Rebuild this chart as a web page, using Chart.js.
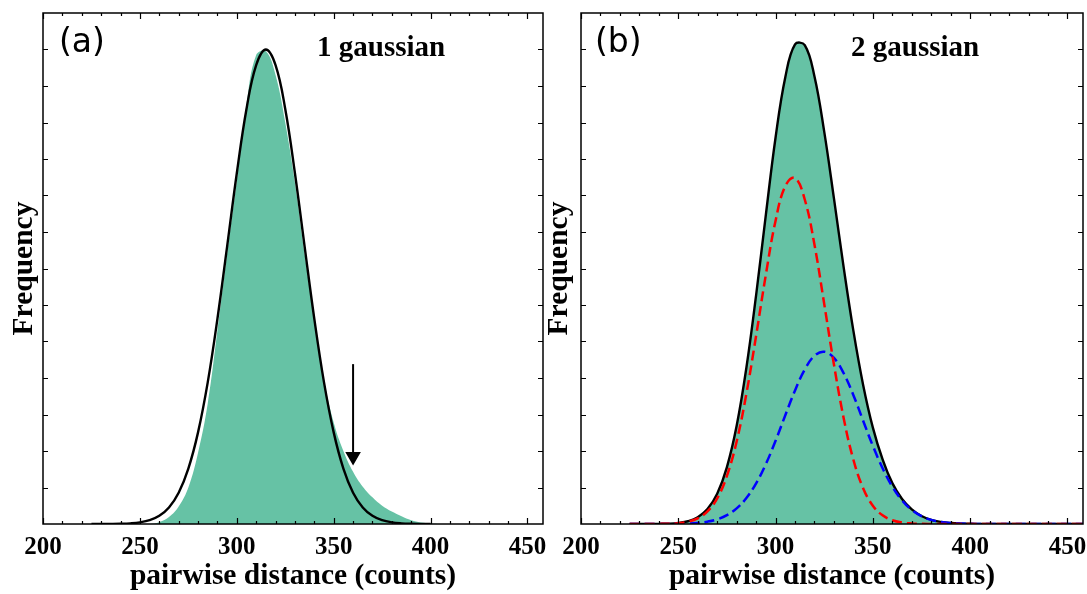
<!DOCTYPE html>
<html lang="en">
<head>
<meta charset="UTF-8">
<title>pairwise distance histogram</title>
<script src="https://cdn.jsdelivr.net/npm/chart.js"></script>
<style>
  html, body { margin: 0; padding: 0; background: #fff; overflow: hidden; width: 1087px; height: 594px; }
  canvas { position: absolute; top: 0; }
  #chartA { left: 0; }
  #chartB { left: 540px; }
</style>
</head>
<body>
<canvas id="chartA" width="556" height="594"></canvas>
<canvas id="chartB" width="560" height="594"></canvas>
<script>
// panel (a): histogram + single gaussian fit
const histX = [255,260,265,270,275,280,285,290,295,300,305,310,315,320,325,330,335,340,345,350,355,360,365,370,375,380,385,390,395,400,405];
const hist  = [0,0.05,0.19,0.48,1.0,1.95,3.3,5.3,7.4,9.4,11.5,12.85,12.95,12.3,11.0,9.35,7.4,5.6,3.95,2.78,2.0,1.43,1.02,0.73,0.50,0.34,0.21,0.10,0.04,0.015,0];

const fitX = [225,230,235,240,245,250,255,260,265,270,275,280,285,290,295,300,305,310,315,320,325,330,335,340,345,350,355,360,365,370,375,380,385,390,395,400];
const fit1 = [0.0002,0.0008,0.0024,0.0068,0.018,0.045,0.104,0.224,0.453,0.858,1.518,2.51,3.88,5.62,7.60,9.61,11.37,12.57,13.0,12.57,11.37,9.61,7.60,5.62,3.88,2.51,1.518,0.858,0.453,0.224,0.104,0.045,0.018,0.0068,0.0024,0.0008];

const arrowX = [360, 360];
const arrowY = [4.38, 1.85];

// panel (b): two gaussian components and their sum
const fitXb = [225,230,235,240,245,250,255,260,265,270,275,280,285,290,295,300,305,310,315,320,325,330,335,340,345,350,355,360,365,370,375,380,385,390,395,400,405,410,415,420,425,430,435,440,445,450,455,460];
const red2  = [0,0,0.001,0.003,0.008,0.024,0.063,0.154,0.344,0.70,1.32,2.26,3.57,5.16,6.83,8.31,9.26,9.48,8.89,7.65,6.03,4.37,2.90,1.76,0.98,0.50,0.237,0.102,0.040,0.015,0.005,0.002,0,0,0,0,0,0,0,0,0,0,0,0,0,0,0,0];
const blue2 = [0,0,0,0.001,0.002,0.006,0.013,0.030,0.064,0.128,0.242,0.427,0.711,1.114,1.642,2.28,2.98,3.66,4.23,4.61,4.72,4.55,4.13,3.53,2.83,2.14,1.53,1.02,0.645,0.383,0.214,0.112,0.056,0.026,0.011,0.005,0.002,0.001,0,0,0,0,0,0,0,0,0,0];
const sum2  = [0,0,0.001,0.004,0.010,0.030,0.076,0.184,0.408,0.83,1.56,2.69,4.28,6.27,8.47,10.59,12.24,13.14,13.12,12.26,10.75,8.92,7.03,5.29,3.81,2.64,1.77,1.12,0.685,0.40,0.22,0.114,0.056,0.026,0.011,0.005,0.002,0.001,0,0,0,0,0,0,0,0,0,0];

const GREEN = '#66c2a5';
const serif = '"Liberation Serif", "Times New Roman", serif';

const pts = (xs, ys) => xs.map((x, i) => ({ x: x, y: ys[i] }));

// frame, inward ticks and panel texts
const frame = {
  id: 'frame',
  afterDatasetsDraw(chart, args, opts) {
    const { ctx, chartArea: a, scales: { x, y } } = chart;
    ctx.save();
    ctx.strokeStyle = '#000';
    ctx.lineWidth = 1.5;
    ctx.strokeRect(a.left, a.top, a.right - a.left, a.bottom - a.top);
    ctx.lineWidth = 1.2;
    ctx.beginPath();
    for (let v = 200; v <= 450; v += 10) {
      const px = Math.round(x.getPixelForValue(v)) + 0.5;
      const len = v % 50 === 0 ? 6 : 3;
      ctx.moveTo(px, a.bottom); ctx.lineTo(px, a.bottom - len);
      ctx.moveTo(px, a.top); ctx.lineTo(px, a.top + len);
    }
    for (let v = 1; v < 14; v++) {
      const py = Math.round(y.getPixelForValue(v)) + 0.5;
      ctx.moveTo(a.left, py); ctx.lineTo(a.left + 5, py);
      ctx.moveTo(a.right, py); ctx.lineTo(a.right - 5, py);
    }
    ctx.stroke();
    ctx.fillStyle = '#000';
    ctx.textBaseline = 'alphabetic';
    ctx.font = '33px "DejaVu Sans"';
    ctx.fillText(opts.tag, a.left + opts.tagX, a.top + 39);
    ctx.font = 'bold 29px ' + serif;
    ctx.fillText(opts.note, a.left + opts.noteX, a.top + 43);
    ctx.restore();
  }
};

function scales(yWidth, yPad) {
  return {
    x: {
      type: 'linear', min: 200, max: 458,
      grid: { display: false, drawTicks: false },
      border: { display: false },
      ticks: {
        stepSize: 50, includeBounds: false, autoSkip: false, maxRotation: 0, minRotation: 0,
        padding: 9, color: '#000', font: { family: serif, size: 25, weight: 'bold' }
      },
      title: {
        display: true, text: 'pairwise distance (counts)', color: '#000',
        font: { family: serif, size: 29.5, weight: 'bold' }, padding: { top: 0, bottom: 0 }
      },
      afterFit(s) { s.height = 70; }
    },
    y: {
      min: 0, max: 14,
      grid: { display: false, drawTicks: false },
      border: { display: false },
      ticks: { display: false },
      title: {
        display: true, text: 'Frequency', color: '#000',
        font: { family: serif, size: 29.5, weight: 'bold' }, padding: { top: yPad, bottom: 0 }
      },
      afterFit(s) { s.width = yWidth; }
    }
  };
}

const line = { pointRadius: 0, tension: 0.4, fill: false };

new Chart(document.getElementById('chartA'), {
  type: 'line',
  data: {
    datasets: [
      { ...line, data: pts(arrowX, arrowY), borderColor: '#000', borderWidth: 2,
        pointRadius: [0, 7], pointStyle: 'triangle', rotation: 180,
        pointBackgroundColor: '#000', pointBorderColor: '#000', order: 0 },
      { ...line, data: pts(fitX, fit1), borderColor: '#000', borderWidth: 2.4, order: 1 },
      { ...line, data: pts(histX, hist), borderWidth: 0, borderColor: GREEN,
        backgroundColor: GREEN, fill: 'origin', order: 2 }
    ]
  },
  options: {
    responsive: false, animation: false,
    layout: { padding: { top: 13, right: 13, bottom: 0, left: 0 } },
    plugins: { legend: { display: false }, tooltip: { enabled: false },
      frame: { tag: '(a)', tagX: 16, note: '1 gaussian', noteX: 274 } },
    scales: scales(43, 7)
  },
  plugins: [frame]
});

new Chart(document.getElementById('chartB'), {
  type: 'line',
  data: {
    datasets: [
      { ...line, data: pts(fitXb, red2), borderColor: '#ff0000', borderWidth: 2.5,
        borderDash: [10, 5], order: 0 },
      { ...line, data: pts(fitXb, blue2), borderColor: '#0000ff', borderWidth: 2.5,
        borderDash: [10, 5], order: 1 },
      { ...line, data: pts(fitXb, sum2), borderColor: '#000', borderWidth: 2.4,
        backgroundColor: GREEN, fill: 'origin', order: 2 }
    ]
  },
  options: {
    responsive: false, animation: false,
    layout: { padding: { top: 13, right: 17, bottom: 0, left: 0 } },
    plugins: { legend: { display: false }, tooltip: { enabled: false },
      frame: { tag: '(b)', tagX: 14, note: '2 gaussian', noteX: 270 } },
    scales: scales(41, 2)
  },
  plugins: [frame]
});
</script>
</body>
</html>
